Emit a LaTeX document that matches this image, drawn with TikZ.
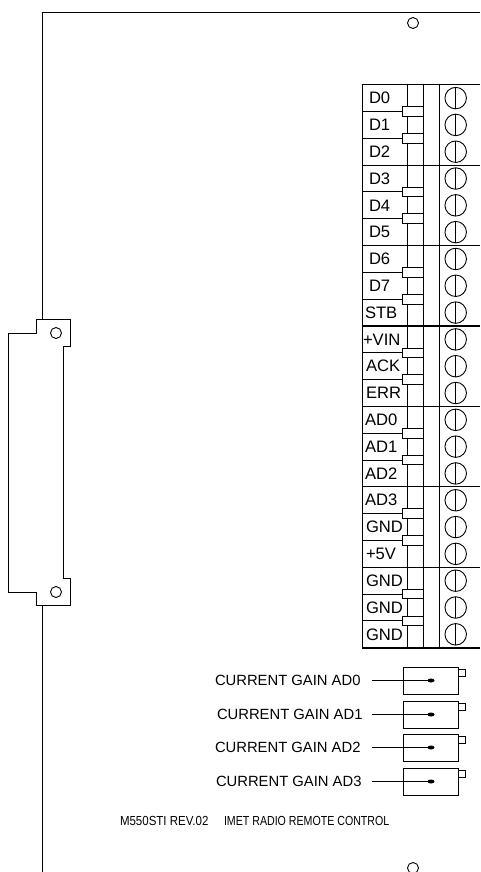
\documentclass[tikz,border=0pt]{standalone}
\usepackage{fontspec}
\usetikzlibrary{calc,shapes.geometric}
\setmainfont{Liberation Sans}
\begin{document}
\begin{tikzpicture}[x=1pt,y=-1pt,line width=0.9pt]
    \tikzstyle{every node}=[inner sep=0pt,outer sep=0pt]
    \tikzstyle{pin}=[anchor=west,font=\fontsize{16.6}{18}\selectfont]
    \tikzstyle{gain}=[anchor=west,font=\fontsize{14.8}{17}\selectfont]
    \tikzstyle{note}=[anchor=west,font=\fontsize{12.5}{14}\selectfont]
    \tikzstyle{hole}=[draw,circle,minimum size=11pt]
    \tikzstyle{screw}=[draw,circle,minimum size=21.5pt]
    \tikzstyle{trim}=[draw,minimum width=55.5pt,minimum height=27pt,anchor=north west]
    \useasboundingbox (0,0) rectangle (480,872);

    % board outline and edge connector
    \coordinate (top)  at (480,12);
    \coordinate (bot)  at (42,872);
    \draw (top) -- (42,12) -- (42,319);
    \draw (42,605) -- (bot);
    \draw (36,319) -- (70,319) -- (70,346) -- (63,346) -- (63,578) -- (70,578)
       -- (70,605) -- (36,605) -- (36,592) -- (8,592) -- (8,333) -- (36,333) -- cycle;
    \node[hole] (h1) at (56,333) {};
    \node[hole] (h2) at (56,592) {};
    \node[hole] (h3) at (413,23) {};
    \node[hole] (h4) at (413,868) {};

    % terminal block
    \draw[line width=1.1pt] (480,84.7) -- (362,84.7);
    \draw[line width=1.1pt] (480,648) -- (362,648);
    \draw (362,84.7) -- (362,648);
    \draw (407,84.7) -- (407,648);
    \draw (423,84.7) -- (423,648);
    \draw (439,84.7) -- (439,648);
    \foreach \t/\xt [count=\i from 0] in {D0/369,D1/369,D2/369,D3/369,D4/369,D5/369,D6/369,D7/369,STB/365,
        +VIN/363,ACK/366,ERR/366,AD0/365,AD1/365,AD2/365,AD3/365,GND/366,+5V/366,GND/366,GND/366,GND/366} {
      \pgfmathsetmacro{\yc}{98.1+26.81*\i}
      \node[pin] (p\i) at (\xt,\yc) {\t};
      \node[screw] (s\i) at (455.7,\yc) {};
      \draw (s\i.north) -- (s\i.south);
      \pgfmathtruncatemacro{\m}{mod(\i,3)}
      \ifnum\m=2
        \ifnum\i<20
          \draw[line width=1.1pt] (362,\yc+13.4) -- (480,\yc+13.4);
        \fi
      \else
        \draw (362,\yc+13.4) -- (402,\yc+13.4);
        \draw[fill=white] (423,\yc+8.6) -- (402,\yc+8.6) -- (402,\yc+18.2) -- (423,\yc+18.2);
      \fi
    }

    % current gain trimmers
    \foreach \t/\xt/\yt [count=\i from 0] in {AD0/215/667,AD1/217/701,AD2/215/734,AD3/216/768} {
      \node[trim] (t\i) at (403,\yt) {};
      \draw ($(t\i.north east)+(0,2)$) rectangle ($(t\i.north east)+(6.5,9)$);
      \node[gain] (g\i) at (\xt,\yt+13) {CURRENT GAIN \t};
      \node[fill,ellipse,minimum width=7pt,minimum height=4pt] (w\i) at (431,\yt+13.5) {};
      \coordinate (c\i) at (372,\yt+13.5);
      \draw (c\i) -- (w\i);
    }

    % title line
    \node[note] (n1) at (120,821) {\scalebox{0.92}[1.05]{M550STI REV.02}};
    \node[note] (n2) at (224,821) {\scalebox{0.85}[1.05]{IMET RADIO REMOTE CONTROL}};
\end{tikzpicture}
\end{document}
